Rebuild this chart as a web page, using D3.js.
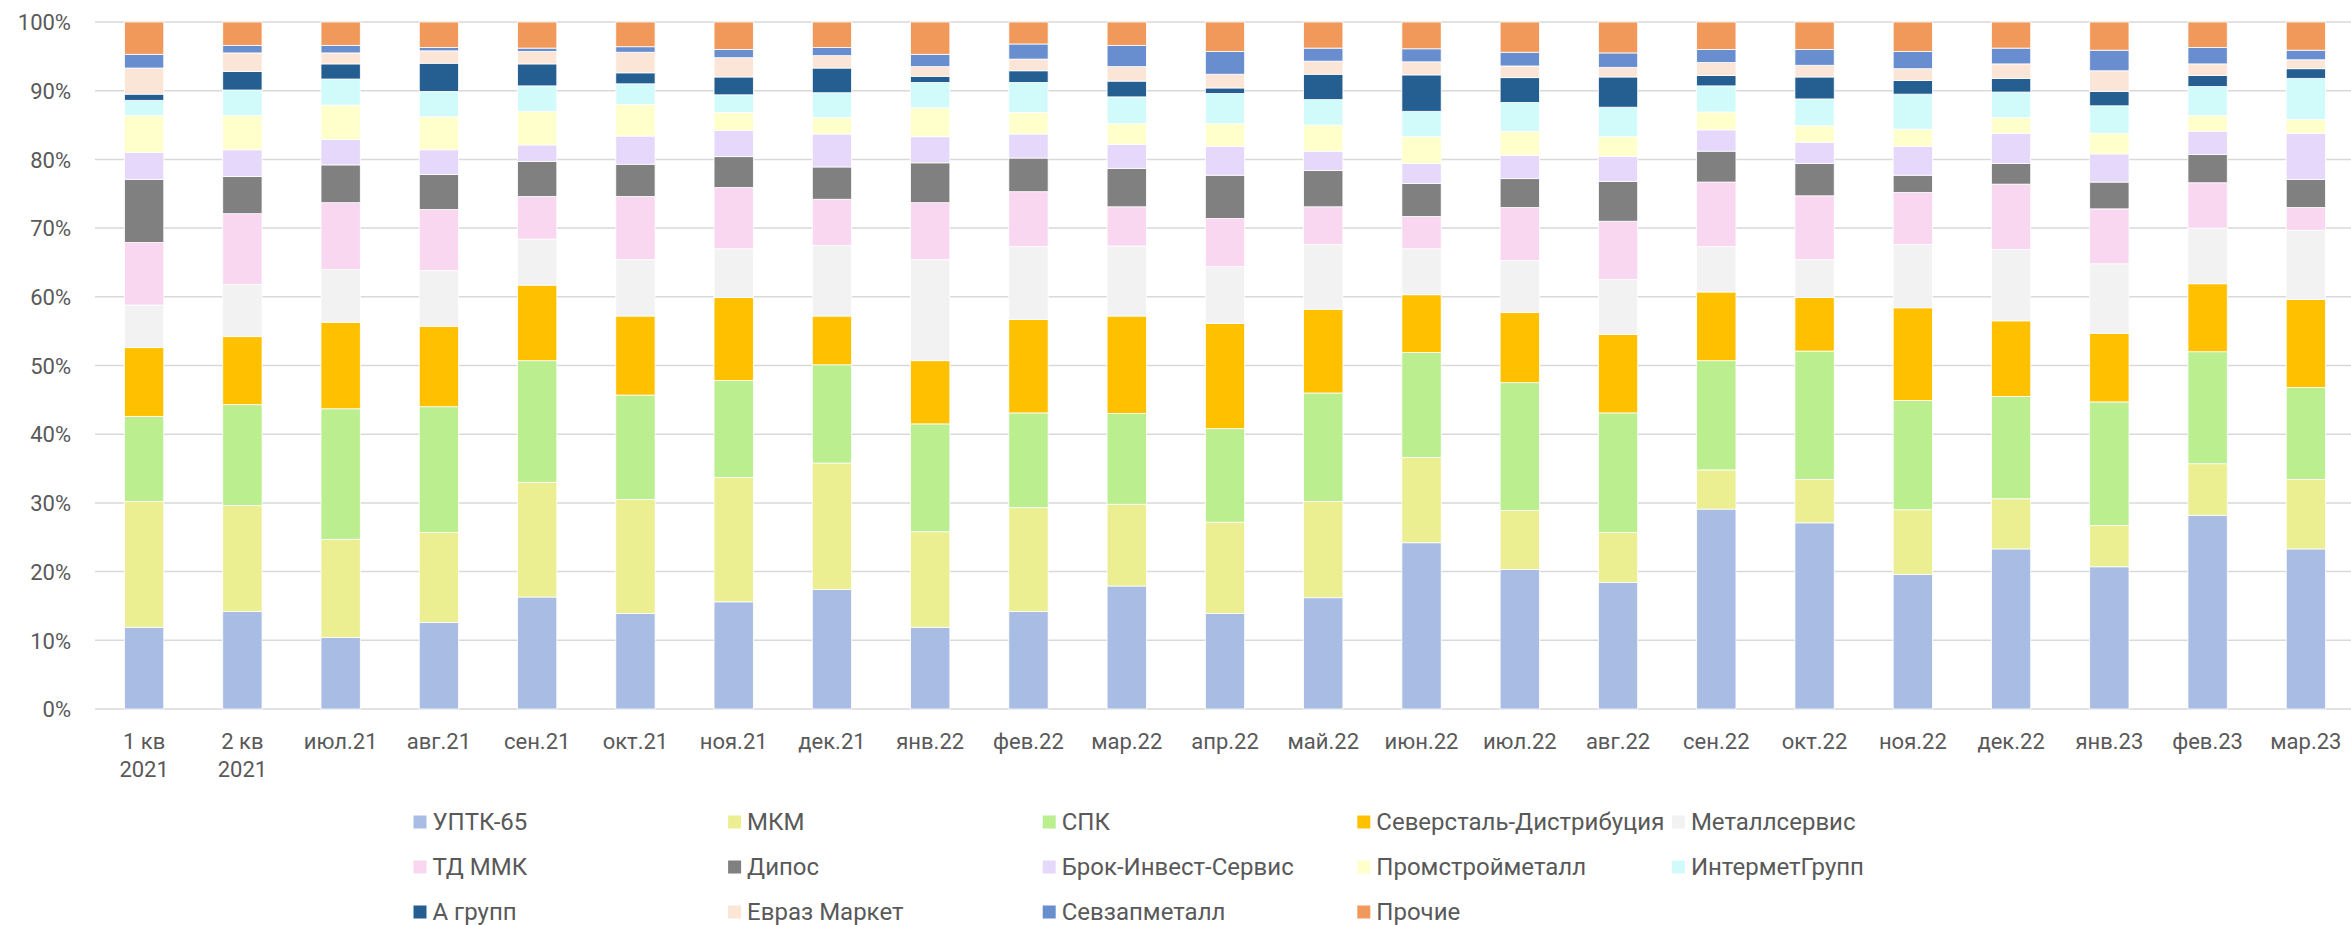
<!DOCTYPE html>
<html>
<head>
<meta charset="utf-8">
<script src="https://cdn.jsdelivr.net/npm/d3@7"></script>
<style>
  body { margin: 0; background: #fff; }
  text { font-family: Roboto, "Noto Sans", sans-serif; fill: #595959; }
</style>
</head>
<body>
<script>
var width = 2351, height = 925;
var margin = {top: 22, right: -4, bottom: 216, left: 95};

var categories = ["1 кв\n2021", "2 кв\n2021", "июл.21", "авг.21", "сен.21", "окт.21", "ноя.21", "дек.21",
    "янв.22", "фев.22", "мар.22", "апр.22", "май.22", "июн.22", "июл.22", "авг.22",
    "сен.22", "окт.22", "ноя.22", "дек.22", "янв.23", "фев.23", "мар.23"];

var seriesNames = ["УПТК-65", "МКМ", "СПК", "Северсталь-Дистрибуция", "Металлсервис",
    "ТД ММК", "Дипос", "Брок-Инвест-Сервис", "Промстройметалл", "ИнтерметГрупп",
    "А групп", "Евраз Маркет", "Севзапметалл", "Прочие"];

var colors = ["#A9BCE3", "#EBEE91", "#BAEE8F", "#FFC000", "#F2F2F2",
    "#FAD7F0", "#808080", "#E6D8FA", "#FFFFCC", "#D1FBFA",
    "#255E91", "#FBE5D6", "#698ED0", "#F1995B"];

// доли, % (по месяцам)
var uptk   = [11.9, 14.2, 10.4, 12.6, 16.3, 13.9, 15.6, 17.4, 11.9, 14.2, 17.9, 13.9, 16.2, 24.2, 20.3, 18.4, 29.1, 27.1, 19.6, 23.3, 20.7, 28.2, 23.3];
var mkm    = [18.3, 15.4, 14.3, 13.1, 16.7, 16.6, 18.1, 18.4, 13.9, 15.1, 11.9, 13.3, 14.0, 12.4, 8.6, 7.3, 5.7, 6.3, 9.4, 7.3, 6.0, 7.5, 10.1];
var spk    = [12.4, 14.7, 19.0, 18.3, 17.7, 15.2, 14.1, 14.3, 15.7, 13.8, 13.2, 13.6, 15.8, 15.3, 18.6, 17.4, 15.9, 18.7, 15.9, 14.9, 18.0, 16.3, 13.4];
var sever  = [10.0, 9.9, 12.6, 11.7, 11.0, 11.5, 12.1, 7.1, 9.2, 13.6, 14.2, 15.3, 12.2, 8.4, 10.2, 11.4, 10.0, 7.8, 13.5, 11.0, 10.0, 9.9, 12.8];
var metser = [6.2, 7.6, 7.7, 8.1, 6.7, 8.2, 7.1, 10.3, 14.7, 10.6, 10.2, 8.3, 9.4, 6.7, 7.6, 8.0, 6.6, 5.5, 9.2, 10.4, 10.1, 8.1, 10.1];
var tdmmk  = [9.1, 10.3, 9.7, 8.9, 6.2, 9.2, 8.9, 6.7, 8.3, 8.0, 5.7, 7.0, 5.5, 4.7, 7.7, 8.5, 9.4, 9.3, 7.6, 9.5, 8.0, 6.6, 3.3];
var dipos  = [9.2, 5.4, 5.5, 5.1, 5.1, 4.7, 4.5, 4.7, 5.8, 4.9, 5.6, 6.3, 5.3, 4.8, 4.2, 5.8, 4.5, 4.7, 2.5, 3.0, 3.9, 4.1, 4.1];
var brok   = [3.9, 3.9, 3.7, 3.6, 2.4, 4.1, 3.8, 4.8, 3.8, 3.5, 3.5, 4.2, 2.8, 2.9, 3.4, 3.6, 3.1, 3.1, 4.2, 4.4, 4.1, 3.4, 6.7];
var promst = [5.4, 5.0, 5.0, 4.8, 4.9, 4.6, 2.6, 2.4, 4.2, 3.1, 3.0, 3.3, 3.8, 3.9, 3.5, 2.9, 2.6, 2.4, 2.5, 2.3, 3.0, 2.3, 2.0];
var intermet = [2.2, 3.7, 3.8, 3.7, 3.7, 3.0, 2.6, 3.6, 3.7, 4.4, 3.9, 4.4, 3.7, 3.7, 4.2, 4.3, 3.8, 3.9, 5.1, 3.7, 4.0, 4.2, 6.0];
var agroup = [0.9, 2.7, 2.2, 4.1, 3.2, 1.6, 2.6, 3.6, 0.9, 1.7, 2.3, 0.8, 3.7, 5.3, 3.6, 4.4, 1.5, 3.2, 2.0, 2.0, 2.1, 1.6, 1.4];
var evraz  = [3.8, 2.7, 1.6, 1.8, 1.8, 3.0, 2.8, 1.8, 1.4, 1.7, 2.1, 2.0, 1.9, 1.9, 1.7, 1.4, 1.9, 1.7, 1.7, 2.1, 3.0, 1.7, 1.3];
var sevzap = [2.0, 1.1, 1.1, 0.5, 0.5, 0.8, 1.2, 1.2, 1.8, 2.2, 3.1, 3.3, 1.9, 1.9, 2.0, 2.1, 1.9, 2.3, 2.5, 2.3, 3.0, 2.4, 1.4];
var other  = [4.7, 3.4, 3.4, 3.7, 3.8, 3.6, 4.0, 3.7, 4.7, 3.2, 3.4, 4.3, 3.8, 3.9, 4.4, 4.5, 4.0, 4.0, 4.3, 3.8, 4.1, 3.7, 4.1];

var seriesValues = [uptk, mkm, spk, sever, metser, tdmmk, dipos, brok, promst, intermet, agroup, evraz, sevzap, other];
var yTicks = [0, 0.1, 0.2, 0.3, 0.4, 0.5, 0.6, 0.7, 0.8, 0.9, 1];

var table = categories.map(function(c, i) {
    var row = {cat: c};
    seriesNames.forEach(function(s, j) { row[s] = seriesValues[j][i]; });
    return row;
});

var plotW = width - margin.left - margin.right,
    plotH = height - margin.top - margin.bottom;

var svg = d3.select("body").append("svg")
    .attr("width", width)
    .attr("height", height);

var g = svg.append("g")
    .attr("transform", "translate(" + margin.left + "," + margin.top + ")");

var x = d3.scaleBand().domain(categories).range([0, plotW]).paddingInner(0.6).paddingOuter(0.3);
var y = d3.scaleLinear().domain([0, 1]).range([plotH, 0]);
var color = d3.scaleOrdinal().domain(seriesNames).range(colors);

// сетка
g.selectAll(".grid").data(yTicks).enter().append("line")
    .attr("class", "grid")
    .attr("x1", 0).attr("x2", plotW)
    .attr("y1", function(d) { return y(d); })
    .attr("y2", function(d) { return y(d); })
    .style("stroke", "#D9D9D9")
    .style("stroke-width", 1.5);

// ось Y
var yAxis = d3.axisLeft(y).tickValues(yTicks).tickFormat(d3.format(".0%")).tickSize(0).tickPadding(24);
g.append("g").call(yAxis)
    .call(function(a) { a.select(".domain").remove(); })
    .selectAll("text")
    .style("font-size", "22px")
    .attr("dy", "0.35em");

var stack = d3.stack().keys(seriesNames).offset(d3.stackOffsetExpand);
var layers = stack(table);

g.selectAll(".layer").data(layers).enter().append("g")
    .attr("class", "layer")
    .style("fill", function(d) { return color(d.key); })
    .selectAll("rect").data(function(d) { return d; }).enter().append("rect")
    .attr("x", function(d) { return x(d.data.cat); })
    .attr("width", x.bandwidth())
    .attr("y", function(d) { return y(d[1]); })
    .attr("height", function(d) { return y(d[0]) - y(d[1]); })
    .style("stroke", "#fff")
    .style("stroke-width", 0.8);

// ось X
var xAxis = d3.axisBottom(x).tickSize(0).tickPadding(0);
var xa = g.append("g").attr("transform", "translate(0," + plotH + ")").call(xAxis);
xa.select(".domain").remove();
xa.selectAll("text").each(function(d) {
    var t = d3.select(this).text("").attr("y", 40).attr("dy", 0).style("font-size", "22px");
    d.split("\n").forEach(function(line, k) {
        t.append("tspan").attr("x", 0).attr("dy", k == 0 ? 0 : 28.4).text(line);
    });
});

// легенда
var legend = svg.append("g").attr("class", "legend");
var legX0 = 413.5, legStep = 314.6, legY0 = 822, legRow = 45;
var items = legend.selectAll(".item").data(seriesNames).enter().append("g")
    .attr("class", "item")
    .attr("transform", function(d, i) {
        return "translate(" + (legX0 + (i % 5) * legStep) + "," + (legY0 + Math.floor(i / 5) * legRow) + ")";
    });
items.append("rect")
    .attr("x", 0).attr("y", -6.5)
    .attr("width", 13).attr("height", 13)
    .style("fill", function(d) { return color(d); });
items.append("text")
    .attr("x", 19).attr("y", 0).attr("dy", "0.35em")
    .style("font-size", "24px")
    .text(function(d) { return d; });
</script>
</body>
</html>
